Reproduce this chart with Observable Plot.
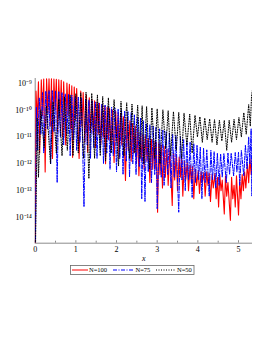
<!DOCTYPE html>
<html><head><meta charset="utf-8">
<script src="https://cdn.jsdelivr.net/npm/d3@7"></script>
<script src="https://cdn.jsdelivr.net/npm/@observablehq/plot@0.6"></script>
<style>
body{margin:0;background:#fff;}
#chart{position:relative;width:273px;height:353px;background:#fff;}
#chart svg text{font-family:"Liberation Serif",serif;}
g[aria-label="x-axis label"] text{font-style:italic;}
</style></head><body><div id="chart"></div>
<script>
const series = ["N=100", "N=75", "N=50"];
const seriesColors = ["#ff0000", "#0000ff", "#000000"];
const xTicks = [0, 1, 2, 3, 4, 5];
const xMinorTicks = [0.5, 1.5, 2.5, 3.5, 4.5];
const yTickExps = [-9, -10, -11, -12, -13, -14];
const xDomain = [0, 5.344];
const yDomainLog = [-14.95, -8.83];

// N=100 : x positions and log10(error) (alternating peaks / troughs)
const redX = [0,
0.02,0.05,0.08,0.11,0.15,0.18,0.21,0.245,0.28,0.31,
0.34,0.37,0.40,0.425,0.46,0.49,0.52,0.55,0.58,0.61,
0.64,0.67,0.70,0.75,0.78,0.81,0.84,0.87,0.90,0.92,
0.96,0.99,1.02,1.08,1.12,1.15,1.18,1.22,1.26,1.29,
1.33,1.36,1.40,1.43,1.46,1.48,1.52,1.55,1.58,1.61,
1.65,1.68,1.71,1.73,1.77,1.80,1.83,1.86,1.90,1.94,
1.98,2.01,2.04,2.06,2.10,2.13,2.17,2.22,2.26,2.29,
2.33,2.36,2.39,2.42,2.46,2.49,2.52,2.55,2.59,2.62,
2.65,2.68,2.72,2.75,2.78,2.82,2.86,2.89,2.92,2.95,
2.98,3.01,3.04,3.07,3.10,3.13,3.17,3.20,3.24,3.27,
3.31,3.37,3.40,3.43,3.47,3.50,3.54,3.57,3.60,3.63,
3.67,3.70,3.74,3.77,3.81,3.84,3.87,3.90,3.94,3.97,
4.01,4.04,4.08,4.11,4.15,4.18,4.22,4.25,4.28,4.31,
4.35,4.38,4.42,4.45,4.48,4.51,4.54,4.57,4.60,4.65,
4.68,4.71,4.74,4.80,4.83,4.86,4.89,4.92,4.95,5.00,
5.03,5.06,5.09,5.12,5.15,5.18,5.22,5.25,5.28,5.31,
5.34];
const redLog = [-16,
-9.3,-10.4,-8.95,-11.6,-8.88,-10.2,-8.85,-12.3,-8.84,-10.1,
-8.84,-10.6,-8.84,-11.8,-8.85,-10.0,-8.86,-10.8,-8.88,-10.3,
-8.9,-11.0,-8.95,-11.3,-9.0,-10.2,-9.05,-10.7,-9.1,-11.76,
-9.15,-10.4,-9.2,-11.8,-9.3,-10.6,-9.35,-11.2,-9.45,-11.57,
-9.55,-10.8,-9.62,-10.9,-9.66,-11.4,-9.7,-10.9,-9.75,-11.3,
-9.8,-11.0,-9.85,-12.0,-9.9,-11.1,-9.95,-11.5,-10.0,-11.95,
-10.05,-11.2,-10.1,-11.8,-10.15,-11.3,-10.25,-12.62,-10.3,-11.5,
-10.4,-11.9,-10.5,-11.6,-10.6,-12.0,-10.7,-12.44,-10.8,-11.9,
-10.9,-12.2,-10.95,-11.9,-11.05,-12.69,-11.1,-12.2,-11.15,-12.2,
-11.2,-13.8,-11.25,-12.4,-11.3,-12.9,-11.35,-12.5,-11.45,-12.8,
-11.5,-13.55,-11.6,-12.6,-11.65,-13.0,-11.75,-12.5,-11.8,-13.2,
-11.9,-12.6,-11.95,-13.0,-12.05,-12.7,-12.1,-13.3,-12.2,-12.8,
-12.25,-13.1,-12.3,-12.7,-12.32,-13.2,-12.3,-12.8,-12.35,-13.4,
-12.4,-12.9,-12.35,-13.3,-12.5,-13.6,-12.4,-13.0,-12.6,-13.86,
-12.45,-13.2,-12.7,-14.1,-12.5,-13.3,-12.8,-13.6,-12.45,-13.9,
-12.6,-13.3,-12.4,-13.0,-12.3,-12.9,-12.0,-12.7,-11.8,-12.4,
-11.8];

// N=75
const blueX = [0,
0.03,0.06,0.10,0.14,0.18,0.21,0.26,0.30,0.34,0.38,
0.42,0.46,0.50,0.54,0.58,0.62,0.66,0.70,0.74,0.78,
0.82,0.86,0.90,0.94,0.98,1.02,1.06,1.10,1.14,1.20,
1.24,1.28,1.32,1.36,1.40,1.44,1.48,1.52,1.56,1.60,
1.64,1.68,1.72,1.76,1.80,1.84,1.88,1.92,1.96,2.00,
2.04,2.08,2.12,2.16,2.20,2.24,2.28,2.32,2.36,2.40,
2.44,2.48,2.52,2.56,2.59,2.62,2.66,2.70,2.74,2.78,
2.82,2.86,2.90,2.94,2.97,3.00,3.06,3.10,3.14,3.17,
3.22,3.26,3.30,3.34,3.38,3.42,3.46,3.53,3.57,3.61,
3.65,3.69,3.73,3.77,3.81,3.86,3.90,3.94,3.98,4.02,
4.06,4.10,4.14,4.18,4.22,4.28,4.32,4.36,4.40,4.44,
4.48,4.52,4.56,4.60,4.64,4.70,4.74,4.78,4.82,4.88,
4.92,4.96,5.00,5.03,5.07,5.13,5.17,5.21,5.25,5.28,
5.31,5.33,5.34];
const blueLog = [-16,
-9.9,-11.5,-9.55,-10.9,-9.35,-11.6,-9.3,-10.7,-9.28,-12.0,
-9.28,-10.8,-9.3,-12.7,-9.32,-11.0,-9.35,-11.3,-9.4,-10.9,
-9.42,-11.7,-9.45,-11.1,-9.5,-11.5,-9.52,-11.2,-9.56,-13.6,
-9.6,-11.3,-9.63,-11.8,-9.66,-11.4,-9.7,-11.8,-9.74,-11.5,
-9.78,-12.0,-9.82,-11.6,-9.86,-12.2,-9.9,-11.7,-9.93,-12.3,
-9.96,-11.8,-10.0,-12.4,-10.03,-11.9,-10.06,-12.5,-10.1,-12.0,
-10.18,-12.4,-10.25,-12.1,-10.3,-13.3,-10.4,-13.4,-10.5,-12.3,
-10.55,-12.7,-10.6,-12.4,-10.65,-13.67,-10.7,-12.5,-10.75,-12.8,
-10.8,-12.4,-10.85,-12.9,-10.9,-12.5,-10.95,-13.8,-11.0,-12.6,
-11.1,-13.0,-11.15,-12.6,-11.2,-13.25,-11.25,-12.7,-11.3,-12.6,
-11.38,-13.3,-11.42,-12.7,-11.48,-13.2,-11.5,-12.6,-11.55,-12.9,
-11.6,-12.8,-11.63,-12.5,-11.62,-12.7,-11.6,-12.4,-11.6,-12.45,
-11.58,-12.3,-11.57,-12.8,-11.5,-12.45,-11.3,-12.2,-11.0,-12.0,
-10.7,-13.2,-10.69];

// N=50
const blackX = [0,
0.05,0.08,0.14,0.22,0.28,0.376,0.44,0.52,0.58,0.66,
0.72,0.79,0.86,0.93,1.00,1.06,1.12,1.19,1.25,1.32,
1.39,1.46,1.53,1.60,1.66,1.73,1.80,1.87,1.94,2.05,
2.11,2.18,2.25,2.32,2.38,2.45,2.52,2.58,2.63,2.67,
2.74,2.81,2.87,2.94,3.00,3.07,3.14,3.21,3.27,3.33,
3.40,3.47,3.53,3.60,3.66,3.73,3.80,3.86,3.93,3.99,
4.05,4.11,4.17,4.23,4.29,4.35,4.41,4.47,4.53,4.59,
4.65,4.71,4.77,4.83,4.89,4.95,5.01,5.07,5.13,5.19,
5.25,5.29,5.32,5.34];
const blackLog = [-16,
-10.3,-12.5,-10.0,-11.4,-9.85,-12.0,-9.7,-11.6,-9.6,-11.7,
-9.52,-11.5,-9.45,-11.7,-9.4,-11.6,-9.36,-11.8,-9.34,-12.55,
-9.38,-11.8,-9.44,-11.7,-9.5,-11.9,-9.55,-11.6,-9.62,-12.07,
-9.68,-11.7,-9.73,-11.8,-9.78,-11.6,-9.82,-11.8,-9.85,-12.0,
-9.88,-12.19,-9.92,-11.8,-9.96,-12.0,-10.0,-11.43,-10.03,-11.7,
-10.06,-11.5,-10.09,-11.8,-10.12,-11.3,-10.15,-11.6,-10.2,-11.0,
-10.25,-11.2,-10.3,-11.1,-10.33,-11.2,-10.36,-11.3,-10.38,-11.15,
-10.39,-11.5,-10.38,-11.2,-10.35,-11.1,-10.28,-11.0,-10.1,-10.9,
-9.8,-10.6,-9.5,-9.28];

function rows(xs, logs, s) {
  const n = Math.min(xs.length, logs.length);
  return d3.range(n).map(i => ({x: xs[i], y: Math.pow(10, logs[i]), s}));
}
const red = rows(redX, redLog, series[0]);
const blue = rows(blueX, blueLog, series[1]);
const black = rows(blackX, blackLog, series[2]);

const yDomain = yDomainLog.map(e => Math.pow(10, e));
const yTicks = yTickExps.map(e => Math.pow(10, e));
const supMap = {"-": "\u207B", "0": "\u2070", "1": "\u00B9", "2": "\u00B2", "3": "\u00B3", "4": "\u2074", "5": "\u2075", "6": "\u2076", "7": "\u2077", "8": "\u2078", "9": "\u2079"};
const fmt = d => "10" + String(Math.round(Math.log10(d))).split("").map(c => supMap[c]).join("");

const dashes = ["none", "4,1.5,1,1.5", "1,1.5"];

const plot = Plot.plot({
  width: 273, height: 262,
  marginLeft: 34.7, marginRight: 21, marginTop: 78, marginBottom: 19.3,
  style: {fontFamily: "Liberation Serif, serif", fontSize: "8px", background: "#fff", color: "#000", overflow: "visible"},
  x: {domain: xDomain},
  y: {type: "log", domain: yDomain},
  marks: [
    Plot.ruleY([yDomain[0]], {stroke: "#8c8c8c"}),
    Plot.ruleX([xDomain[0]], {stroke: "#8c8c8c"}),
    Plot.axisX({ticks: xMinorTicks, tickSize: -2, tickFormat: () => "", stroke: "#8c8c8c", label: null}),
    Plot.axisX({ticks: xTicks, tickSize: -2.5, tickPadding: 6, tickFormat: d3.format("d"), stroke: "#8c8c8c", label: "x", labelAnchor: "center", labelArrow: "none", labelOffset: 18}),
    Plot.axisY({ticks: yTicks, tickSize: 0, tickPadding: 3.5, tickFormat: fmt, label: null}),
    Plot.line(red, {x: "x", y: "y", stroke: seriesColors[0], strokeWidth: 1.1, clip: true}),
    Plot.line(blue, {x: "x", y: "y", stroke: seriesColors[1], strokeWidth: 1, strokeDasharray: dashes[1], clip: true}),
    Plot.line(black, {x: "x", y: "y", stroke: seriesColors[2], strokeWidth: 1, strokeDasharray: dashes[2], clip: true})
  ]
});
const chart = document.getElementById("chart");
chart.appendChild(plot);

// legend below the plot
const leg = d3.select(chart).append("svg")
  .attr("width", 273).attr("height", 20)
  .style("position", "absolute").style("left", "0px").style("top", "262px");
leg.append("rect").attr("x", 70.5).attr("y", 3.5).attr("width", 123.5).attr("height", 9)
  .attr("fill", "#fff").attr("stroke", "#666").attr("stroke-width", 0.8);
const items = [
  {x1: 72, x2: 88, tx: 89},
  {x1: 113, x2: 134, tx: 135.5},
  {x1: 156, x2: 176, tx: 177}
];
items.forEach((it, i) => {
  leg.append("line").attr("x1", it.x1).attr("x2", it.x2).attr("y1", 8).attr("y2", 8)
    .attr("stroke", seriesColors[i]).attr("stroke-width", 1)
    .attr("stroke-dasharray", dashes[i]);
  leg.append("text").attr("x", it.tx).attr("y", 10.2)
    .attr("font-family", "Liberation Serif, serif").attr("font-size", 6.5)
    .attr("fill", "#000").text(series[i]);
});
</script></body></html>
